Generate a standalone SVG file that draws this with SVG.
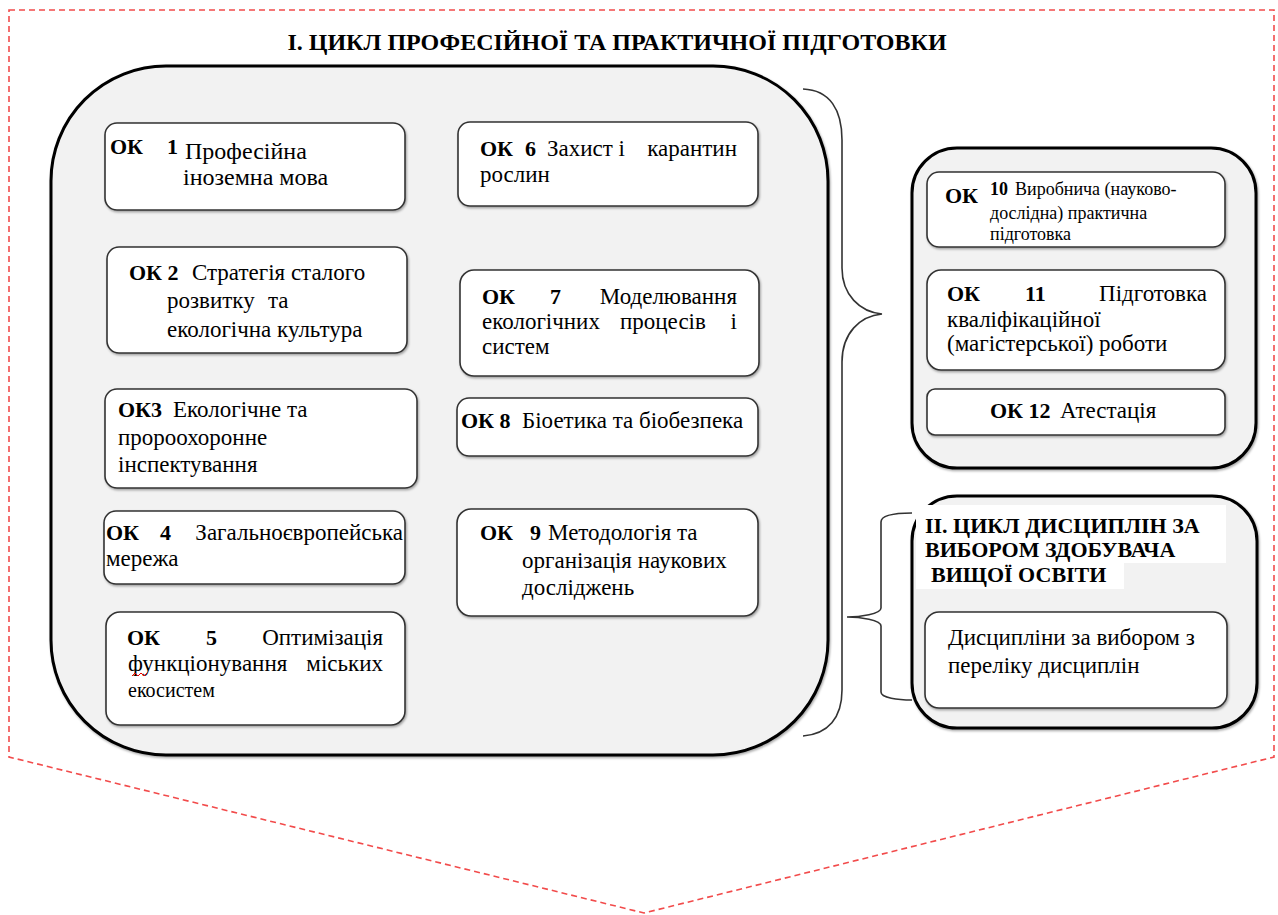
<svg xmlns="http://www.w3.org/2000/svg" width="1278" height="915" viewBox="0 0 1278 915">
<style>
.cont{fill:#f2f2f2;stroke:#000;stroke-width:3}
.box{fill:#fff;stroke:#333;stroke-width:1.6}
.brace{fill:none;stroke:#333;stroke-width:1.6}
.frame{fill:none;stroke:#f24b4b;stroke-width:1.6;stroke-dasharray:6 4}
</style>
<defs>
<filter id="sh" x="-5%" y="-5%" width="110%" height="115%">
<feDropShadow dx="1" dy="1.5" stdDeviation="1" flood-color="#000" flood-opacity="0.35"/>
</filter>
</defs>
<rect width="1278" height="915" fill="#fff"/>
<polygon class="frame" points="9,10 1274,10 1274,757 644,913 9,757"/>
<text x="617" y="50" text-anchor="middle" style="font-family:'Liberation Serif';font-size:24px;font-weight:bold">І. ЦИКЛ ПРОФЕСІЙНОЇ ТА ПРАКТИЧНОЇ ПІДГОТОВКИ</text>

<g id="cycle1">
<rect class="cont" x="51" y="66" width="777" height="689" rx="115" ry="115" filter="url(#sh)"/>
</g>

<g id="ok1">
<rect class="box" x="105" y="123" width="300" height="87" rx="12" filter="url(#sh)"/>
<text x="110" y="154" style="font-family:'Liberation Serif';font-size:22px;font-weight:bold">ОК</text>
<text x="167" y="154" style="font-family:'Liberation Serif';font-size:22px;font-weight:bold">1</text>
<text x="185" y="159" style="font-family:'Liberation Serif';font-size:24px">Професійна</text>
<text x="183" y="185" style="font-family:'Liberation Serif';font-size:24px">іноземна мова</text>
</g>

<g id="ok2">
<rect class="box" x="107" y="247" width="300" height="106" rx="12" filter="url(#sh)"/>
<text x="129" y="280" style="font-family:'Liberation Serif';font-size:22px;font-weight:bold">ОК 2</text>
<text x="192" y="280" style="font-family:'Liberation Serif';font-size:23px">Стратегія сталого</text>
<text x="167" y="308" style="font-family:'Liberation Serif';font-size:23px">розвитку</text>
<text x="268" y="308" style="font-family:'Liberation Serif';font-size:23px">та</text>
<text x="167" y="337" style="font-family:'Liberation Serif';font-size:23px">екологічна культура</text>
</g>

<g id="ok3">
<rect class="box" x="105" y="389" width="312" height="99" rx="12" filter="url(#sh)"/>
<text x="118" y="417" style="font-family:'Liberation Serif';font-size:22px;font-weight:bold">ОК3</text>
<text x="173" y="417" style="font-family:'Liberation Serif';font-size:23px">Екологічне та</text>
<text x="118" y="445" style="font-family:'Liberation Serif';font-size:23px">пророохоронне</text>
<text x="118" y="472" style="font-family:'Liberation Serif';font-size:23px">інспектування</text>
</g>

<g id="ok4">
<rect class="box" x="104" y="511" width="301" height="73" rx="12" filter="url(#sh)"/>
<text x="106" y="540" style="font-family:'Liberation Serif';font-size:22px;font-weight:bold">ОК</text>
<text x="160" y="540" style="font-family:'Liberation Serif';font-size:22px;font-weight:bold">4</text>
<text x="403" y="540" text-anchor="end" style="font-family:'Liberation Serif';font-size:23px">Загальноєвропейська</text>
<text x="106" y="566" style="font-family:'Liberation Serif';font-size:23px">мережа</text>
</g>

<g id="ok5">
<rect class="box" x="106" y="612" width="299" height="113" rx="14" filter="url(#sh)"/>
<text x="127" y="645" style="font-family:'Liberation Serif';font-size:22px;font-weight:bold">ОК</text>
<text x="206" y="645" style="font-family:'Liberation Serif';font-size:22px;font-weight:bold">5</text>
<text x="383" y="645" text-anchor="end" style="font-family:'Liberation Serif';font-size:23px">Оптимізація</text>
<text x="128" y="671" style="font-family:'Liberation Serif';font-size:23px">функціонування</text>
<text x="383" y="671" text-anchor="end" style="font-family:'Liberation Serif';font-size:23px">міських</text>
<text x="128" y="697" style="font-family:'Liberation Serif';font-size:20px">екосистем</text>
<polyline points="132,676 135,673 138,676 141,673 144,676 147,673" fill="none" stroke="#e00" stroke-width="1"/>
</g>

<g id="ok6">
<rect class="box" x="458" y="122" width="300" height="84" rx="12" filter="url(#sh)"/>
<text x="480" y="156" style="font-family:'Liberation Serif';font-size:22px;font-weight:bold">ОК</text>
<text x="525" y="156" style="font-family:'Liberation Serif';font-size:22px;font-weight:bold">6</text>
<text x="547" y="156" style="font-family:'Liberation Serif';font-size:23px">Захист і</text>
<text x="737" y="156" text-anchor="end" style="font-family:'Liberation Serif';font-size:23px">карантин</text>
<text x="480" y="182" style="font-family:'Liberation Serif';font-size:23px">рослин</text>
</g>

<g id="ok7">
<rect class="box" x="460" y="270" width="299" height="106" rx="14" filter="url(#sh)"/>
<text x="482" y="304" style="font-family:'Liberation Serif';font-size:22px;font-weight:bold">ОК</text>
<text x="550" y="304" style="font-family:'Liberation Serif';font-size:22px;font-weight:bold">7</text>
<text x="737" y="304" text-anchor="end" style="font-family:'Liberation Serif';font-size:23px">Моделювання</text>
<text x="482" y="329" style="font-family:'Liberation Serif';font-size:23px">екологічних</text>
<text x="620" y="329" style="font-family:'Liberation Serif';font-size:23px">процесів</text>
<text x="737" y="329" text-anchor="end" style="font-family:'Liberation Serif';font-size:23px">і</text>
<text x="482" y="354" style="font-family:'Liberation Serif';font-size:23px">систем</text>
</g>

<g id="ok8">
<rect class="box" x="457" y="398" width="301" height="58" rx="12" filter="url(#sh)"/>
<text x="461" y="428" style="font-family:'Liberation Serif';font-size:22px;font-weight:bold">ОК 8</text>
<text x="522" y="428" style="font-family:'Liberation Serif';font-size:23px">Біоетика та біобезпека</text>
</g>

<g id="ok9">
<rect class="box" x="457" y="509" width="301" height="107" rx="14" filter="url(#sh)"/>
<text x="480" y="540" style="font-family:'Liberation Serif';font-size:22px;font-weight:bold">ОК</text>
<text x="530" y="540" style="font-family:'Liberation Serif';font-size:22px;font-weight:bold">9</text>
<text x="548" y="540" style="font-family:'Liberation Serif';font-size:23px">Методологія та</text>
<text x="522" y="568" style="font-family:'Liberation Serif';font-size:23px">організація наукових</text>
<text x="522" y="595" style="font-family:'Liberation Serif';font-size:23px">досліджень</text>
</g>

<g id="practice">
<rect class="cont" x="912" y="148" width="344" height="320" rx="45" filter="url(#sh)"/>
</g>

<g id="ok10">
<rect class="box" x="927" y="172" width="298" height="75" rx="12" filter="url(#sh)"/>
<text x="945" y="203" style="font-family:'Liberation Serif';font-size:22px;font-weight:bold">ОК</text>
<text x="990" y="195" style="font-family:'Liberation Serif';font-size:18px;font-weight:bold">10</text>
<text x="1015" y="195" style="font-family:'Liberation Serif';font-size:18px">Виробнича (науково-</text>
<text x="990" y="219" style="font-family:'Liberation Serif';font-size:18px">дослідна) практична</text>
<text x="990" y="240" style="font-family:'Liberation Serif';font-size:18px">підготовка</text>
</g>

<g id="ok11">
<rect class="box" x="927" y="270" width="298" height="100" rx="14" filter="url(#sh)"/>
<text x="947" y="301" style="font-family:'Liberation Serif';font-size:22px;font-weight:bold">ОК</text>
<text x="1025" y="301" style="font-family:'Liberation Serif';font-size:22px;font-weight:bold">11</text>
<text x="1207" y="301" text-anchor="end" style="font-family:'Liberation Serif';font-size:23px">Підготовка</text>
<text x="947" y="327" style="font-family:'Liberation Serif';font-size:23px">кваліфікаційної</text>
<text x="947" y="351" style="font-family:'Liberation Serif';font-size:23px">(магістерської) роботи</text>
</g>

<g id="ok12">
<rect class="box" x="927" y="389" width="298" height="46" rx="8" filter="url(#sh)"/>
<text x="990" y="418" style="font-family:'Liberation Serif';font-size:22px;font-weight:bold">ОК 12</text>
<text x="1060" y="418" style="font-family:'Liberation Serif';font-size:23px">Атестація</text>
</g>

<g id="cycle2">
<rect class="cont" x="912" y="496" width="345" height="232" rx="45" filter="url(#sh)"/>
<rect x="916" y="505" width="310" height="58" fill="#fff"/>
<rect x="916" y="563" width="208" height="26" fill="#fff"/>
<text x="925" y="533" style="font-family:'Liberation Serif';font-size:22px;font-weight:bold">ІІ. ЦИКЛ ДИСЦИПЛІН ЗА</text>
<text x="925" y="557" style="font-family:'Liberation Serif';font-size:22px;font-weight:bold">ВИБОРОМ ЗДОБУВАЧА</text>
<text x="931" y="582" style="font-family:'Liberation Serif';font-size:22px;font-weight:bold">ВИЩОЇ ОСВІТИ</text>
</g>

<g id="electives">
<rect class="box" x="925" y="612" width="302" height="96" rx="14" filter="url(#sh)"/>
<text x="948" y="645" style="font-family:'Liberation Serif';font-size:23px">Дисципліни за вибором з</text>
<text x="948" y="673" style="font-family:'Liberation Serif';font-size:23px">переліку дисциплін</text>
</g>

<g id="connectors">
<path class="brace" d="M803,89 C830,90 842,110 842,140 L842,268 C842,295 860,312 882,314 C860,316 842,333 842,362 L842,690 C842,718 828,734 803,736"/>
<path class="brace" d="M912,513 C898,513 881,514 881,522 L881,608 C881,614 860,617 847,617 C860,617 881,620 881,626 L881,692 C881,698 898,700 912,700"/>
</g>
</svg>
